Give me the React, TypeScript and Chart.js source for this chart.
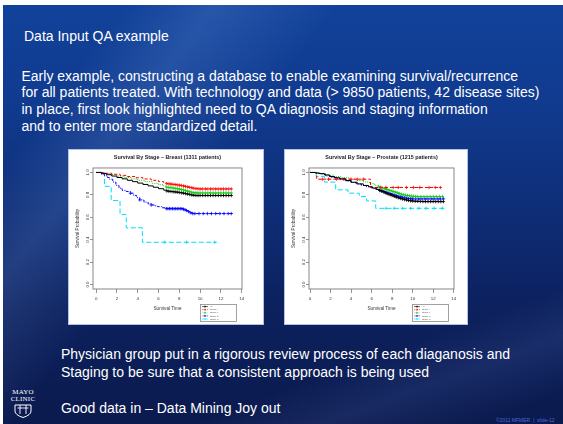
import React, { useEffect, useRef } from "react";
import { Chart, registerables } from "chart.js";

Chart.register(...registerables);

type Pt = [number, number, number?];

// ---------- axis ticks & labels ----------
const xTicks = [0, 2, 4, 6, 8, 10, 12, 14];
const yTicks = [0, 0.2, 0.4, 0.6, 0.8, 1.0];
const seriesLabels = ["All", "Stage I", "Stage II", "Stage III", "Stage IV"];

// ---------- Breast (1311 patients): [time, survival, censor mark] ----------
const breastAll: Pt[] = [
  [0, 1], [0.5, 0.99], [1, 0.98], [1.5, 0.968], [2, 0.955], [2.5, 0.943], [3, 0.93],
  [3.5, 0.918], [4, 0.905], [4.5, 0.893], [5, 0.88], [5.5, 0.868], [6, 0.855], [6.5, 0.842],
  [6.8, 0.835, 1], [7, 0.832, 1], [7.2, 0.83, 1], [7.4, 0.828, 1], [7.6, 0.826, 1],
  [7.8, 0.824, 1], [8, 0.821, 1], [8.2, 0.818, 1], [8.4, 0.815, 1], [8.6, 0.811, 1],
  [8.8, 0.807, 1], [9, 0.803, 1], [9.2, 0.799, 1], [9.4, 0.796, 1], [9.6, 0.794, 1],
  [9.8, 0.794, 1], [10, 0.794, 1], [10.25, 0.794, 1], [10.5, 0.794, 1], [10.75, 0.794, 1],
  [11, 0.794, 1], [11.25, 0.794, 1], [11.5, 0.794, 1], [11.75, 0.794, 1], [12, 0.794, 1],
  [12.25, 0.794, 1], [12.5, 0.794, 1], [12.75, 0.794, 1], [13, 0.794, 1],
];
const breastStage1: Pt[] = [
  [0, 1], [0.7, 0.993], [1.5, 0.984], [2.3, 0.974], [3, 0.964], [3.8, 0.953], [4.5, 0.942],
  [5.3, 0.93], [6, 0.918], [6.5, 0.906],
  [6.8, 0.9, 1], [7, 0.898, 1], [7.2, 0.896, 1], [7.4, 0.894, 1], [7.6, 0.892, 1],
  [7.8, 0.889, 1], [8, 0.886, 1], [8.2, 0.883, 1], [8.4, 0.879, 1], [8.6, 0.875, 1],
  [8.8, 0.871, 1], [9, 0.867, 1], [9.2, 0.863, 1], [9.4, 0.859, 1], [9.6, 0.856, 1],
  [9.8, 0.854, 1], [10, 0.853, 1], [10.25, 0.853, 1], [10.5, 0.853, 1], [10.75, 0.853, 1],
  [11, 0.853, 1], [11.25, 0.853, 1], [11.5, 0.853, 1], [11.75, 0.853, 1], [12, 0.853, 1],
  [12.25, 0.853, 1], [12.5, 0.853, 1], [12.75, 0.853, 1], [13, 0.853, 1],
];
const breastStage2: Pt[] = [
  [0, 1], [0.6, 0.99], [1.3, 0.98], [2, 0.968], [2.7, 0.955], [3.4, 0.943], [4, 0.93],
  [4.7, 0.918], [5.4, 0.903], [6, 0.89], [6.5, 0.877],
  [6.8, 0.868, 1], [7, 0.866, 1], [7.2, 0.864, 1], [7.4, 0.861, 1], [7.6, 0.858, 1],
  [7.8, 0.855, 1], [8, 0.851, 1], [8.2, 0.847, 1], [8.4, 0.843, 1], [8.6, 0.838, 1],
  [8.8, 0.833, 1], [9, 0.828, 1], [9.2, 0.823, 1], [9.4, 0.82, 1], [9.6, 0.818, 1],
  [9.8, 0.817, 1], [10, 0.817, 1], [10.25, 0.817, 1], [10.5, 0.817, 1], [10.75, 0.817, 1],
  [11, 0.817, 1], [11.25, 0.817, 1], [11.5, 0.817, 1], [11.75, 0.817, 1], [12, 0.817, 1],
  [12.25, 0.817, 1], [12.5, 0.817, 1], [12.75, 0.817, 1], [13, 0.817, 1],
];
const breastStage3: Pt[] = [
  [0, 1], [0.5, 0.985], [0.8, 0.97], [1.1, 0.955], [1.3, 0.94], [1.6, 0.915], [1.9, 0.885],
  [2.2, 0.86], [2.5, 0.84], [2.9, 0.83], [3.3, 0.815, 1], [3.6, 0.795], [3.9, 0.775],
  [4.2, 0.755, 1], [4.6, 0.735], [5, 0.72], [5.3, 0.71, 1], [5.6, 0.702], [5.9, 0.695],
  [6.3, 0.685], [6.75, 0.677, 1], [6.9, 0.677, 1], [7.05, 0.677, 1], [7.2, 0.677, 1],
  [7.35, 0.677, 1], [7.5, 0.677, 1], [7.65, 0.677, 1], [7.8, 0.677, 1], [7.95, 0.677, 1],
  [8.1, 0.677, 1], [8.25, 0.677, 1], [8.4, 0.672, 1], [8.55, 0.667, 1], [8.7, 0.66, 1],
  [8.9, 0.65, 1], [9.1, 0.64, 1], [9.3, 0.633, 1], [9.5, 0.633, 1], [9.9, 0.633, 1],
  [10.3, 0.633, 1], [10.7, 0.633, 1], [11.1, 0.633, 1], [11.5, 0.633, 1], [11.9, 0.633, 1],
  [12.3, 0.633, 1], [12.7, 0.633, 1], [13, 0.633, 1],
];
const breastStage4: Pt[] = [
  [0, 1], [0.8, 0.876], [1.45, 0.75], [2.3, 0.624], [2.9, 0.506], [4.45, 0.377],
  [6.6, 0.377, 1], [8.7, 0.377, 1], [11.4, 0.377, 1], [11.6, 0.377],
];

// ---------- Prostate (1215 patients) ----------
const prostateAll: Pt[] = [
  [0, 1], [0.5, 0.995], [0.9, 0.99], [1.4, 0.978], [1.9, 0.964], [2.4, 0.953], [2.9, 0.943],
  [3.5, 0.928], [4, 0.913], [4.6, 0.898], [5.2, 0.884], [5.7, 0.872], [6.1, 0.86], [6.5, 0.848],
  [6.8, 0.839, 1], [7, 0.832, 1], [7.2, 0.825, 1], [7.4, 0.815, 1], [7.6, 0.808, 1],
  [7.8, 0.801, 1], [8, 0.794, 1], [8.2, 0.787, 1], [8.4, 0.78, 1], [8.6, 0.774, 1],
  [8.8, 0.768, 1], [9, 0.763, 1], [9.2, 0.758, 1], [9.4, 0.754, 1], [9.6, 0.75, 1],
  [9.8, 0.747, 1], [10, 0.745, 1], [10.25, 0.743, 1], [10.5, 0.742, 1], [10.75, 0.741, 1],
  [11, 0.74, 1], [11.25, 0.74, 1], [11.5, 0.74, 1], [11.75, 0.74, 1], [12, 0.74, 1],
  [12.25, 0.74, 1], [12.5, 0.74, 1], [12.75, 0.74, 1], [13, 0.74, 1],
];
const prostateStage1: Pt[] = [
  [0, 1], [0.65, 0.94], [1.2, 0.94, 1], [1.8, 0.94, 1], [2.6, 0.94, 1], [3.3, 0.94, 1],
  [4.0, 0.94, 1], [4.6, 0.94, 1], [5.2, 0.94, 1], [5.9, 0.866], [6.9, 0.866, 1],
  [7.4, 0.866, 1], [8.1, 0.866, 1], [8.6, 0.866, 1], [9.4, 0.866, 1], [10.1, 0.866, 1],
  [10.7, 0.866, 1], [11.6, 0.866, 1], [12.2, 0.866, 1], [12.7, 0.866, 1],
];
const prostateStage2: Pt[] = [
  [0, 1], [0.7, 0.99], [1.5, 0.975], [2.3, 0.963], [3, 0.953], [3.8, 0.94], [4.5, 0.928],
  [5.2, 0.915], [5.8, 0.9], [6.3, 0.885], [6.7, 0.872, 1], [6.9, 0.866, 1], [7.1, 0.86, 1],
  [7.3, 0.854, 1], [7.5, 0.848, 1], [7.7, 0.842, 1], [7.9, 0.836, 1], [8.1, 0.83, 1],
  [8.3, 0.824, 1], [8.5, 0.818, 1], [8.7, 0.812, 1], [8.9, 0.806, 1], [9.1, 0.801, 1],
  [9.3, 0.797, 1], [9.5, 0.794, 1], [9.7, 0.791, 1], [9.9, 0.789, 1], [10.1, 0.787, 1],
  [10.3, 0.786, 1], [10.5, 0.785, 1], [10.8, 0.785, 1], [11.1, 0.785, 1], [11.4, 0.785, 1],
  [11.7, 0.785, 1], [12, 0.785, 1], [12.3, 0.785, 1], [12.6, 0.785, 1], [12.9, 0.785, 1],
];
const prostateStage3: Pt[] = [
  [0, 1], [0.5, 0.993], [1, 0.985], [1.5, 0.97], [2, 0.955], [2.5, 0.945], [3, 0.935],
  [3.5, 0.922], [4, 0.91], [4.5, 0.897], [5, 0.884], [5.5, 0.872], [6, 0.86], [6.4, 0.85],
  [6.8, 0.84, 1], [7, 0.835, 1], [7.2, 0.829, 1], [7.4, 0.823, 1], [7.6, 0.817, 1],
  [7.8, 0.811, 1], [8, 0.805, 1], [8.2, 0.799, 1], [8.4, 0.793, 1], [8.6, 0.788, 1],
  [8.8, 0.783, 1], [9, 0.778, 1], [9.2, 0.774, 1], [9.4, 0.77, 1], [9.6, 0.767, 1],
  [9.8, 0.765, 1], [10, 0.764, 1], [10.3, 0.764, 1], [10.6, 0.764, 1], [10.9, 0.764, 1],
  [11.2, 0.764, 1], [11.5, 0.764, 1], [11.8, 0.764, 1], [12.1, 0.764, 1], [12.4, 0.764, 1],
  [12.7, 0.764, 1], [13, 0.764, 1],
];
const prostateStage4: Pt[] = [
  [0, 1], [0.6, 0.965], [1.4, 0.914], [2.5, 0.845], [3.7, 0.815], [4.8, 0.785], [5.5, 0.746],
  [6.4, 0.68], [7.4, 0.68, 1], [8.2, 0.68, 1], [9, 0.68, 1], [9.8, 0.68, 1], [10.6, 0.68, 1],
  [11.3, 0.68, 1], [12.1, 0.68, 1], [12.9, 0.68, 1], [13.1, 0.68],
];

// ---------- styles (kept apart from data) ----------
const seriesColors = ["#000000", "#ff0000", "#00cd00", "#0000ff", "#00e0f0"];
const seriesDashes: number[][] = [[], [3, 2], [1, 1.3], [1, 1.3, 3, 1.3], [5, 2.5]];
const FONT = '"Liberation Sans", Arial, sans-serif';

type KMProps = {
  title: string;
  series: Pt[][];
  xMin: number;
  width: number;
  height: number;
  padRight: number;
  legendX: number;
};

function KMChart({ title, series, xMin, width, height, padRight, legendX }: KMProps) {
  const ref = useRef<HTMLCanvasElement | null>(null);
  useEffect(() => {
    if (!ref.current) return;
    const framePlugin = {
      id: "kmFrame",
      afterDatasetsDraw(chart: any) {
        const { ctx, chartArea: a } = chart;
        ctx.save();
        ctx.strokeStyle = "#7a7a7a";
        ctx.lineWidth = 0.9;
        ctx.strokeRect(a.left, a.top, a.right - a.left, a.bottom - a.top);
        ctx.restore();
      },
    };
    const legendPlugin = {
      id: "kmLegend",
      afterDraw(chart: any) {
        const ctx = chart.ctx;
        const x0 = legendX, y0 = 154, w = 36, h = 17;
        ctx.save();
        ctx.fillStyle = "#ffffff";
        ctx.fillRect(x0, y0, w, h);
        ctx.strokeStyle = "#8a8a8a";
        ctx.lineWidth = 0.8;
        ctx.strokeRect(x0 + 0.5, y0 + 0.5, w, h);
        chart.data.datasets.forEach((ds: any, i: number) => {
          const yy = y0 + 2.6 + i * 3.1;
          ctx.strokeStyle = ds.borderColor;
          ctx.lineWidth = 0.6;
          ctx.setLineDash((ds.borderDash || []).map((d: number) => d * 0.5));
          ctx.beginPath();
          ctx.moveTo(x0 + 2, yy);
          ctx.lineTo(x0 + 8, yy);
          ctx.stroke();
          ctx.setLineDash([]);
          ctx.beginPath();
          ctx.moveTo(x0 + 5, yy - 1);
          ctx.lineTo(x0 + 5, yy + 1);
          ctx.moveTo(x0 + 4, yy);
          ctx.lineTo(x0 + 6, yy);
          ctx.stroke();
          ctx.fillStyle = "#555";
          ctx.font = `2.4px ${FONT}`;
          ctx.textBaseline = "middle";
          ctx.fillText(ds.label, x0 + 10, yy);
        });
        ctx.restore();
      },
    };
    const chart = new Chart(ref.current, {
      type: "line",
      data: {
        datasets: series.map((s, i) => ({
          label: seriesLabels[i],
          data: s.map((p) => ({ x: p[0], y: p[1], c: p[2] ? 1 : 0 })),
          borderColor: seriesColors[i],
          backgroundColor: seriesColors[i],
          borderWidth: 1,
          borderDash: seriesDashes[i],
          stepped: true,
          fill: false,
          pointStyle: "cross",
          pointRadius: (ctx: any) => (ctx.raw && ctx.raw.c ? 1.7 : 0),
          pointBorderWidth: 0.8,
          pointBorderColor: seriesColors[i],
          pointHoverRadius: 0,
        })),
      },
      options: {
        responsive: false,
        maintainAspectRatio: false,
        animation: false,
        devicePixelRatio: 1,
        events: [],
        layout: { padding: { top: 0, right: padRight, left: 0, bottom: 0 } },
        plugins: {
          legend: { display: false },
          tooltip: { enabled: false },
          title: {
            display: true,
            text: title,
            fullSize: false,
            color: "#222",
            font: { size: 5.4, weight: "bold", family: FONT, lineHeight: 1.2 },
            padding: { top: 4, bottom: 7.5 },
          },
        },
        scales: {
          x: {
            type: "linear",
            min: xMin,
            max: 14.03,
            afterBuildTicks: (s: any) => {
              s.ticks = xTicks.map((v) => ({ value: v }));
            },
            afterFit: (s: any) => {
              s.height = 35;
            },
            grid: { drawOnChartArea: false, drawTicks: true, tickLength: 4, color: "#7a7a7a", lineWidth: 0.8 },
            border: { display: false },
            ticks: {
              autoSkip: false,
              maxRotation: 0,
              minRotation: 0,
              padding: 3,
              color: "#333",
              font: { size: 4.4, family: FONT },
              callback: (v: any) => String(v),
            },
            title: {
              display: true,
              text: "Survival Time",
              color: "#333",
              font: { size: 4.7, family: FONT, lineHeight: 1.2 },
              padding: { top: 0, bottom: 12.6 },
            },
          },
          y: {
            type: "linear",
            min: -0.04,
            max: 1.04,
            afterBuildTicks: (s: any) => {
              s.ticks = yTicks.map((v) => ({ value: v }));
            },
            afterFit: (s: any) => {
              s.width = 24;
            },
            grid: { drawOnChartArea: false, drawTicks: true, tickLength: 3, color: "#7a7a7a", lineWidth: 0.8 },
            border: { display: false },
            ticks: {
              minRotation: 90,
              maxRotation: 90,
              crossAlign: "center",
              padding: -1,
              color: "#333",
              font: { size: 4.4, family: FONT },
              callback: (v: any) => Number(v).toFixed(1),
            },
            title: {
              display: true,
              text: "Survival Probability",
              color: "#333",
              font: { size: 4.6, family: FONT, lineHeight: 1.2 },
              padding: { top: 5.6, bottom: 0 },
            },
          },
        },
      } as any,
      plugins: [framePlugin, legendPlugin],
    });
    return () => chart.destroy();
  }, []);
  return (
    <canvas
      ref={ref}
      width={width}
      height={height}
      style={{ display: "block", width, height }}
    />
  );
}

const white: React.CSSProperties = { position: "absolute", color: "#fff", whiteSpace: "nowrap" };

export default function App() {
  return (
    <div
      style={{
        position: "fixed",
        left: 0,
        top: 0,
        width: 563,
        height: 424,
        background: "#ffffff",
        overflow: "hidden",
        fontFamily: FONT,
      }}
    >
      <div
        style={{
          position: "absolute",
          left: 3,
          top: 5,
          width: 560,
          height: 419,
          background: [
            "linear-gradient(128deg, rgba(255,255,255,0) 14%, rgba(150,190,255,0.16) 24%, rgba(255,255,255,0) 38%)",
            "linear-gradient(160deg, rgba(255,255,255,0) 78%, rgba(140,170,255,0.10) 86%, rgba(255,255,255,0) 95%)",
            "linear-gradient(180deg, #11429a 0%, #103a8e 25%, #0e2d76 50%, #0c215e 72%, #0b1a4e 100%)",
          ].join(", "),
        }}
      />
      <div style={{ ...white, left: 24, top: 27.5, fontSize: 14, lineHeight: "17px" }}>Data Input QA example</div>
      <div style={{ ...white, left: 21.5, top: 67.5, fontSize: 14, lineHeight: "16.8px" }}>
        <div>Early example, constructing a database to enable examining survival/recurrence</div>
        <div>for all patients treated. With technology and data (&gt; 9850 patients, 42 disease sites)</div>
        <div>in place, first look highlighted need to QA diagnosis and staging information</div>
        <div>and to enter more standardized detail.</div>
      </div>

      <div
        style={{
          position: "absolute",
          left: 68,
          top: 149,
          width: 194,
          height: 174,
          border: "1px solid #b4bfe6",
          background: "#fff",
        }}
      >
        <KMChart
          title="Survival By Stage – Breast (1311 patients)"
          series={[breastAll, breastStage1, breastStage2, breastStage3, breastStage4]}
          xMin={-0.3}
          width={194}
          height={174}
          padRight={21}
          legendX={131}
        />
      </div>
      <div
        style={{
          position: "absolute",
          left: 284,
          top: 149,
          width: 182,
          height: 174,
          border: "1px solid #b4bfe6",
          background: "#fff",
        }}
      >
        <KMChart
          title="Survival By Stage – Prostate (1215 patients)"
          series={[prostateAll, prostateStage1, prostateStage2, prostateStage3, prostateStage4]}
          xMin={-0.1}
          width={182}
          height={174}
          padRight={13}
          legendX={127}
        />
      </div>

      <div style={{ ...white, left: 61, top: 345, fontSize: 14, lineHeight: "18px" }}>
        <div>Physician group put in a rigorous review process of each diaganosis and</div>
        <div>Staging to be sure that a consistent approach is being used</div>
      </div>
      <div style={{ ...white, left: 61, top: 399, fontSize: 14, lineHeight: "18px" }}>Good data in – Data Mining Joy out</div>

      <div
        style={{
          position: "absolute",
          left: 8,
          top: 389,
          width: 30,
          textAlign: "center",
          color: "#fff",
          fontFamily: '"Liberation Serif", "DejaVu Serif", serif',
          fontSize: 7,
          lineHeight: "7px",
          letterSpacing: 0.2,
        }}
      >
        <div>MAYO</div>
        <div>CLINIC</div>
        <svg width="18" height="14" viewBox="0 0 18 14" style={{ display: "block", margin: "1px auto 0" }}>
          <path d="M1 1 H17 V7 Q17 11 9 13.5 Q1 11 1 7 Z" fill="none" stroke="#fff" strokeWidth="1" />
          <path d="M6 1 V10 M12 1 V10 M3.5 4 H14.5" fill="none" stroke="#fff" strokeWidth="0.9" />
        </svg>
      </div>
      <div
        style={{
          ...white,
          left: 496,
          top: 417,
          fontSize: 5,
          lineHeight: "6px",
          color: "#4d6ad4",
        }}
      >
        ©2011 MFMER &nbsp;|&nbsp; slide-12
      </div>
    </div>
  );
}
